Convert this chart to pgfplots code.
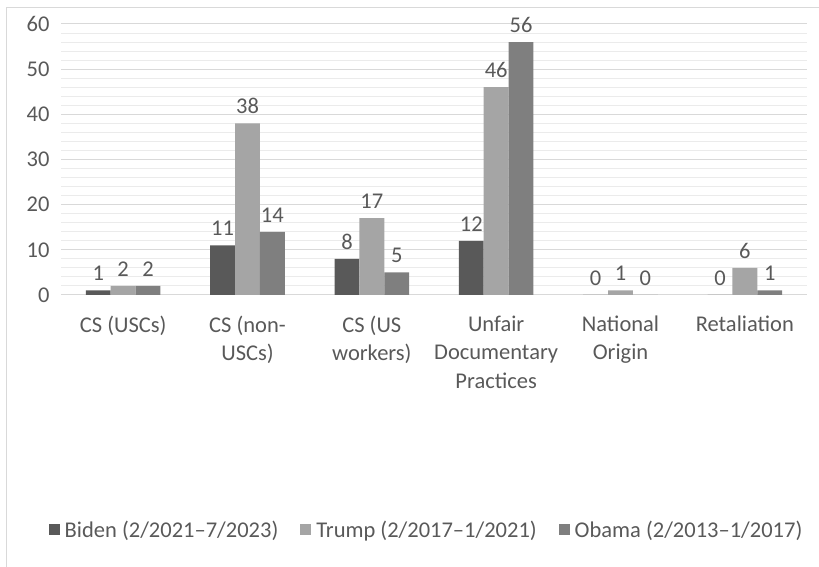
\documentclass[border=0pt]{standalone}
\usepackage{pgfplots}
\pgfplotsset{compat=1.18}
\usepackage{fontspec}
\setmainfont{Carlito}
\definecolor{txt}{HTML}{595959}
\definecolor{cBiden}{HTML}{595959}
\definecolor{cTrump}{HTML}{A5A5A5}
\definecolor{cObama}{HTML}{7F7F7F}
\definecolor{gmaj}{HTML}{D9D9D9}
\definecolor{gmin}{HTML}{EBEBEB}
\begin{document}
\begin{tikzpicture}[x=1pt,y=1pt]
\useasboundingbox (0,0) rectangle (819,567);
\draw[gmaj, line width=1pt] (6.5,0) -- (6.5,559.5) -- (819,559.5);
\begin{axis}[
  at={(61pt,272pt)}, anchor=south west,
  scale only axis, width=746pt, height=271pt,
  xmin=-0.5, xmax=5.5, ymin=0, ymax=60,
  ytick={0,10,...,60},
  minor y tick num=4,
  ymajorgrids, yminorgrids,
  major grid style={gmaj, line width=1pt},
  minor grid style={gmin, line width=1pt},
  axis line style={draw=none},
  tick style={draw=none},
  xtick={0,...,5},
  xticklabels={CS (USCs), CS (non-\\USCs), CS (US\\workers), Unfair\\Documentary\\Practices, National\\Origin, Retaliation},
  /pgf/number format/assume math mode=true,
  tick label style={text=txt},
  yticklabel style={font=\fontsize{22.5}{26}\selectfont, xshift=-8pt},
  xticklabel style={font=\fontsize{22.5}{28.5}\selectfont, align=center, yshift=-13pt},
  ybar=0pt, bar width=0.2,
  nodes near coords,
  every node near coord/.append style={font=\fontsize{22.5}{26}\selectfont, text=txt, yshift=6pt},
  legend columns=3,
  legend style={at={(0.49,-0.867)}, anchor=center, draw=none, fill=none,
    font=\fontsize{22.5}{26}\selectfont, text=txt,
    /tikz/every odd column/.append style={column sep=3pt},
    /tikz/every even column/.append style={column sep=20pt}},
  legend image code/.code={\fill[#1] (0pt,-5.5pt) rectangle (11pt,5.5pt);},
]
\addplot[fill=cBiden, draw=none, bar shift=-0.2] coordinates {(0,1) (1,11) (2,8) (3,12) (4,0) (5,0)};
\addplot[fill=cTrump, draw=none, bar shift=0] coordinates {(0,2) (1,38) (2,17) (3,46) (4,1) (5,6)};
\addplot[fill=cObama, draw=none, bar shift=0.2] coordinates {(0,2) (1,14) (2,5) (3,56) (4,0) (5,1)};
\legend{Biden (2/2021–7/2023), Trump (2/2017–1/2021), Obama (2/2013–1/2017)}
\end{axis}
\end{tikzpicture}
\end{document}
